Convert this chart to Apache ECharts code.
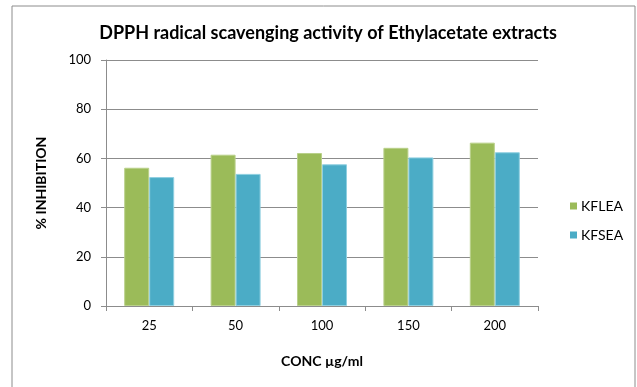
<!DOCTYPE html>
<html>
<head>
<meta charset="utf-8">
<style>
  html, body { margin: 0; padding: 0; background: #fff; }
  #chart { width: 637px; height: 387px; }
</style>
<script src="https://cdn.jsdelivr.net/npm/echarts@6/dist/echarts.min.js"></script>
</head>
<body>
<div id="chart"></div>
<script>
// Concentrations (µg/ml) and % inhibition for each extract
const categories = ['25', '50', '100', '150', '200'];
const kflea = [56.2, 61.5, 62.2, 64.3, 66.4];
const kfsea = [52.4, 53.7, 57.6, 60.4, 62.5];
const yTicks = { min: 0, max: 100, interval: 20 };

const FONT = 'Lato, "Open Sans", sans-serif';
const chart = echarts.init(document.getElementById('chart'), null, { renderer: 'canvas' });

chart.setOption({
  animation: false,
  backgroundColor: '#fff',
  textStyle: { fontFamily: FONT },
  graphic: [{
    type: 'rect',
    shape: { x: 12, y: 6, width: 623, height: 400 },
    style: { fill: 'none', stroke: '#8c8c8c', lineWidth: 1 },
    silent: true
  }],
  title: {
    text: 'DPPH radical scavenging activity of Ethylacetate extracts',
    left: 323, top: 19, textAlign: 'center',
    textStyle: { fontFamily: FONT, fontSize: 18, fontWeight: 'bold', color: '#000' }
  },
  legend: {
    orient: 'vertical',
    left: 565, top: 194,
    itemWidth: 7, itemHeight: 7, itemGap: 15,
    icon: 'rect',
    itemStyle: { borderWidth: 0 },
    textStyle: { fontFamily: FONT, fontSize: 14, color: '#000', padding: [0, 0, 0, -1] },
    data: ['KFLEA', 'KFSEA']
  },
  grid: { left: 106, right: 99, top: 60, bottom: 81, containLabel: false },
  xAxis: {
    type: 'category',
    data: categories,
    name: 'CONC µg/ml',
    nameLocation: 'middle',
    nameGap: 48,
    nameTextStyle: { fontFamily: FONT, fontSize: 14, fontWeight: 'bold', color: '#000' },
    axisLine: { lineStyle: { color: '#8c8c8c' } },
    axisTick: { show: true, length: 5, lineStyle: { color: '#8c8c8c' } },
    axisLabel: { fontFamily: FONT, fontSize: 13, color: '#000', margin: 13 }
  },
  yAxis: {
    type: 'value',
    min: yTicks.min, max: yTicks.max, interval: yTicks.interval,
    name: '% INHIBITION',
    nameLocation: 'middle',
    nameGap: 58,
    nameRotate: 90,
    nameTextStyle: { fontFamily: FONT, fontSize: 14, fontWeight: 'bold', color: '#000' },
    axisLine: { show: true, lineStyle: { color: '#8c8c8c' } },
    axisTick: { show: true, length: 5, lineStyle: { color: '#8c8c8c' } },
    axisLabel: { fontFamily: FONT, fontSize: 13, color: '#000', margin: 15 },
    splitLine: { show: true, lineStyle: { color: '#8c8c8c', width: 1 } }
  },
  series: [
    {
      name: 'KFLEA', type: 'bar', data: kflea,
      barWidth: 25, barGap: '0%',
      itemStyle: { color: '#9BBB59', borderColor: '#b9d08a', borderWidth: 1 }
    },
    {
      name: 'KFSEA', type: 'bar', data: kfsea,
      barWidth: 25, barGap: '0%',
      itemStyle: { color: '#4BACC6', borderColor: '#8fcfe0', borderWidth: 1 }
    }
  ]
});
</script>
</body>
</html>
